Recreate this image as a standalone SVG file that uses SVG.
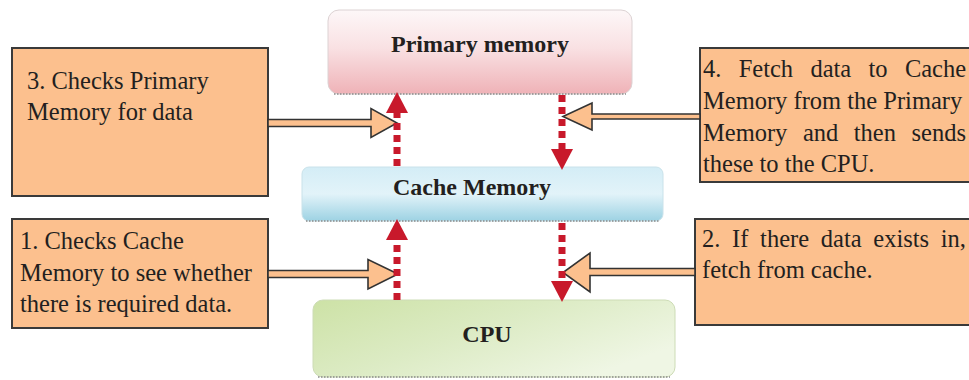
<svg xmlns="http://www.w3.org/2000/svg" width="969" height="380" viewBox="0 0 969 380">
  <style>
    .title { font-family: "Liberation Serif", "Times New Roman", serif; font-weight: bold; font-size: 24px; fill: #231f20; text-anchor: middle; }
    .note-text { font-family: "Liberation Serif", "Times New Roman", serif; font-size: 24.5px; fill: #231f20; }
    .note { fill: #fcc08e; stroke: #3a3a3a; stroke-width: 2; }
    .pointer { fill: #fcc08e; stroke: #333333; stroke-width: 1.6; stroke-linejoin: miter; }
    .flow { fill: none; stroke: #c8192b; stroke-width: 7; stroke-dasharray: 7 5; }
    .edge { fill: none; stroke: #8a8a8a; stroke-width: 1.6; stroke-dasharray: 1.5 1.5; }
  </style>
  <defs>
    <linearGradient id="gPrimary" x1="0" y1="0" x2="0" y2="1">
      <stop offset="0" stop-color="#fdf7f8"/>
      <stop offset="0.45" stop-color="#f9e1e3"/>
      <stop offset="1" stop-color="#efb2b7"/>
    </linearGradient>
    <linearGradient id="gCache" x1="0" y1="0" x2="0" y2="1">
      <stop offset="0" stop-color="#d4edf6"/>
      <stop offset="0.5" stop-color="#e2f3f9"/>
      <stop offset="1" stop-color="#9dd2e3"/>
    </linearGradient>
    <linearGradient id="gCpu" x1="0" y1="0" x2="1" y2="0.6">
      <stop offset="0" stop-color="#cde2a6"/>
      <stop offset="0.5" stop-color="#dcebc4"/>
      <stop offset="1" stop-color="#eff6e4"/>
    </linearGradient>
    <marker id="head" markerUnits="userSpaceOnUse" markerWidth="22" markerHeight="22" refX="0" refY="10" orient="auto" viewBox="0 0 20 20">
      <path d="M0,0 L19,10 L0,20 z" fill="#c8192b"/>
    </marker>
  </defs>

  <!-- memory hierarchy nodes -->
  <g id="primary-memory">
    <rect x="328" y="10" width="304" height="84" rx="11" fill="url(#gPrimary)" stroke="#dcd2d3" stroke-width="1"/>
    <line class="edge" x1="334" y1="94" x2="626" y2="94"/>
    <text class="title" x="480" y="52">Primary memory</text>
  </g>

  <g id="cache-memory">
    <rect x="302" y="167" width="361" height="54" rx="7" fill="url(#gCache)" stroke="#c9e2ea" stroke-width="1"/>
    <line class="edge" x1="306" y1="221" x2="659" y2="221"/>
    <text class="title" x="472" y="195">Cache Memory</text>
  </g>

  <g id="cpu">
    <rect x="313" y="300" width="362" height="77" rx="10" fill="url(#gCpu)" stroke="#cddcb6" stroke-width="1"/>
    <line class="edge" x1="318" y1="377" x2="670" y2="377"/>
    <text class="title" x="487" y="342">CPU</text>
  </g>

  <!-- explanatory notes -->
  <g id="note-3">
    <rect class="note" x="12" y="48" width="256" height="148"/>
    <text class="note-text" x="27" y="89">3. Checks Primary</text>
    <text class="note-text" x="27" y="120">Memory for data</text>
  </g>

  <g id="note-4">
    <rect class="note" x="700" y="48" width="280" height="134"/>
    <text class="note-text" y="77"><tspan x="703">4.</tspan><tspan x="738.7">Fetch</tspan><tspan x="810.4">data</tspan><tspan x="868.5">to</tspan><tspan x="904.9">Cache</tspan></text>
    <text class="note-text" x="703" y="109">Memory from the Primary</text>
    <text class="note-text" y="141"><tspan x="703">Memory</tspan><tspan x="802.9">and</tspan><tspan x="853.8">then</tspan><tspan x="911.5">sends</tspan></text>
    <text class="note-text" x="703" y="172">these to the CPU.</text>
  </g>

  <g id="note-1">
    <rect class="note" x="12" y="219" width="256" height="109"/>
    <text class="note-text" x="20" y="249">1. Checks Cache</text>
    <text class="note-text" x="20" y="281">Memory to see whether</text>
    <text class="note-text" x="20" y="312">there is required data.</text>
  </g>

  <g id="note-2">
    <rect class="note" x="695" y="219" width="285" height="106"/>
    <text class="note-text" y="247"><tspan x="702">2.</tspan><tspan x="732.1">If</tspan><tspan x="760.1">there</tspan><tspan x="820.8">data</tspan><tspan x="873.3">exists</tspan><tspan x="940.8">in,</tspan></text>
    <text class="note-text" x="702" y="278">fetch from cache.</text>
  </g>

  <!-- connectors: note pointers, then the dashed data flows -->
  <g id="connectors">
    <path class="pointer" d="M268,119.5 L371,119.5 L371,108.5 L397,123 L371,137.5 L371,126.5 L268,126.5 Z"/>
    <path class="pointer" d="M700,114 L592,114 L592,103 L563,116.5 L592,130 L592,119 L700,119 Z"/>
    <path class="pointer" d="M268,270.5 L368,270.5 L368,259.5 L398,274 L368,289 L368,277.5 L268,277.5 Z"/>
    <path class="pointer" d="M695,268.5 L590,268.5 L590,253 L563,272.5 L590,292 L590,275.5 L695,275.5 Z"/>

    <line class="flow" x1="397" y1="166" x2="397" y2="113" marker-end="url(#head)"/>
    <line class="flow" x1="562" y1="95" x2="562" y2="149" marker-end="url(#head)"/>
    <line class="flow" x1="397" y1="300" x2="397" y2="240" marker-end="url(#head)"/>
    <line class="flow" x1="562" y1="223" x2="562" y2="281" marker-end="url(#head)"/>
  </g>
</svg>
